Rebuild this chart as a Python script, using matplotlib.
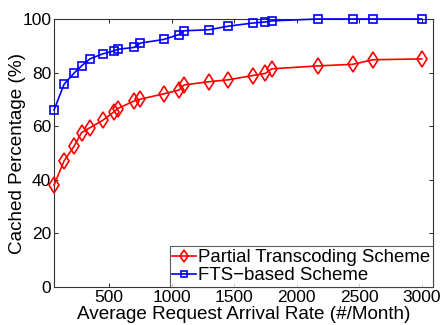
import matplotlib
matplotlib.use("Agg")
import matplotlib.pyplot as plt

rate = [60, 140, 220, 280, 350, 450, 540, 570, 700, 750, 940, 1060, 1100,
        1300, 1450, 1650, 1750, 1800, 2170, 2450, 2610, 3000]
partial = [38, 47, 52.5, 57.6, 59.5, 62.2, 65.4, 66.6, 69.4, 70.1, 72.1, 73.5,
           75.4, 76.6, 77.3, 78.9, 79.7, 81.4, 82.5, 83.1, 84.8, 85.1]
fts = [66, 75.6, 79.8, 82.5, 85.2, 87, 88.1, 88.7, 89.4, 91, 92.4, 94.2,
       95.6, 96, 97.3, 98.5, 98.9, 99.3, 100, 100, 100, 100]
xticks = [500, 1000, 1500, 2000, 2500, 3000]
yticks = [0, 20, 40, 60, 80, 100]

plt.rcParams['font.family'] = ['Liberation Sans', 'DejaVu Sans']

fig = plt.figure(figsize=(4.42, 3.25), dpi=100)
ax = fig.add_axes([54/442, 1-287/325, (433-54)/442, (287-19)/325])

ax.plot(rate, partial, color='red', marker='d', markersize=8, mfc='none',
        mec='red', mew=1.2, lw=1.2, label='Partial Transcoding Scheme',
        clip_on=False, zorder=3)
ax.plot(rate, fts, color='blue', marker='s', markersize=5.2, mfc='none',
        mec='blue', mew=1.2, lw=1.2, label='FTS\u2212based Scheme',
        clip_on=False, zorder=3)

ax.set_xlim(60, 3090)
ax.set_ylim(0, 100)
ax.set_xticks(xticks)
ax.set_yticks(yticks)
ax.tick_params(direction='in', top=True, right=True, labelsize=12.5,
               length=3, width=0.6, pad=2)
for s in ax.spines.values():
    s.set_linewidth(0.8)
    s.set_color('#333333')

ax.set_xlabel('Average Request Arrival Rate (#/Month)', fontsize=13.6, labelpad=1)
ax.set_ylabel('Cached Percentage (%)', fontsize=13.6, labelpad=-3)

leg = ax.legend(loc='lower right', fontsize=13.4, frameon=True, fancybox=False,
                borderpad=0.15, handlelength=1.25, handletextpad=0.12,
                labelspacing=0.05, borderaxespad=0.0, markerscale=0.8)
leg.set_zorder(5)
leg.get_frame().set_edgecolor('#333333')
leg.get_frame().set_linewidth(0.8)

fig.savefig('out.png', dpi=100)
